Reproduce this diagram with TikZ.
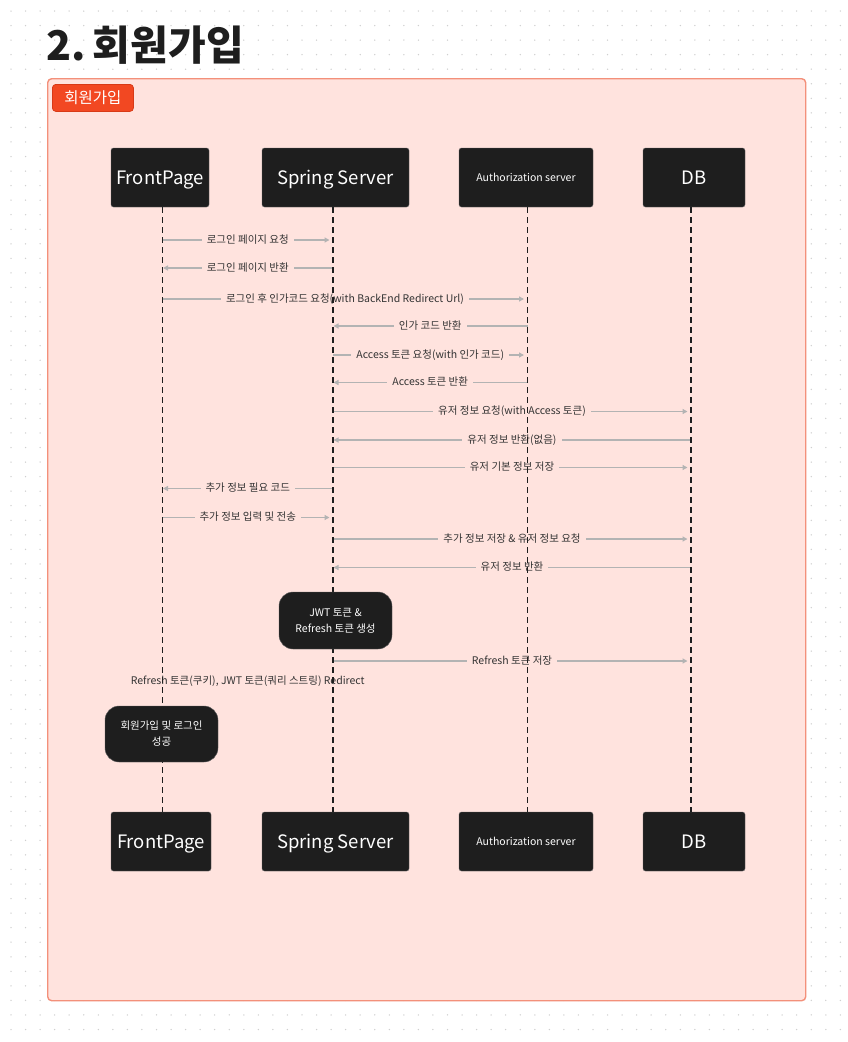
\documentclass[tikz,border=0pt]{standalone}
\usepackage{fontspec}
\setmainfont{Noto Sans CJK KR}
\usetikzlibrary{arrows.meta}
\definecolor{bgpink}{HTML}{FFE3DE}
\definecolor{framec}{HTML}{F3907A}
\definecolor{tagc}{HTML}{F24822}
\definecolor{tagb}{HTML}{D83A17}
\definecolor{ink}{HTML}{1E1E1E}
\definecolor{arrowc}{HTML}{B3B3B3}
\definecolor{lblc}{HTML}{333333}
\definecolor{dotc}{HTML}{CFCFCF}
\tikzset{
  frame/.style={draw=framec, fill=bgpink, line width=1.4pt, rounded corners=4pt, inner sep=0pt},
  tagbox/.style={draw=tagb, fill=tagc, line width=0.8pt, rounded corners=3.5pt, text=white,
    font=\fontsize{15.5}{18}\selectfont, minimum width=81pt, minimum height=27pt, inner sep=0pt,
    text height=12pt, text depth=1pt},
  actor/.style={fill=ink, draw=ink!70, line width=0.4pt, rounded corners=2.5pt, text=white,
    minimum height=59pt, inner sep=0pt, font=\fontsize{18.5}{22}\selectfont,
    text height=14pt, text depth=1pt},
  actorsmall/.style={actor, font=\fontsize{10.5}{13}\selectfont, text height=8.5pt, text depth=0.8pt},
  act/.style={fill=ink, draw=ink!70, line width=0.4pt, rounded corners=14pt, text=white,
    align=center, inner sep=0pt, font=\fontsize{10.5}{16}\selectfont},
  lifeline/.style={draw=ink, line width=1.2pt, dash pattern=on 6pt off 4pt},
  msg/.style={draw=arrowc, line width=1.3pt, -{Triangle[length=5pt,width=5pt]}},
  msgR/.style={msg, shorten >=3.5pt},
  msgL/.style={msg, shorten >=0.5pt},
  lbl/.style={fill=bgpink, text=lblc, inner xsep=5pt, inner ysep=1.5pt,
    font=\fontsize{10.5}{12}\selectfont, text height=8pt, text depth=2pt},
}
\begin{document}
\begin{tikzpicture}[x=1pt,y=-1pt]
\useasboundingbox (0,0) rectangle (848,1042);
\fill[white] (0,0) rectangle (848,1042);
\foreach \i in {0,...,57}{
  \foreach \j in {0,...,70}{
    \fill[dotc] ({11+\i*14.55},{11+\j*14.55}) circle (0.75pt);
  }
}
% frame, tag, title
\node[frame, anchor=north west, minimum width=758pt, minimum height=922pt] (frame) at (47,78) {};
\node[tagbox, anchor=north west] (tag) at (52,84) {회원가입};
\node[anchor=base west, inner sep=0pt, text=ink, font=\bfseries\fontsize{41}{48}\selectfont] (title) at (46,60) {2.\kern-2pt\ 회원가입};

% actors
\node[actor, minimum width=98pt] (fpT) at (160,177.5) {FrontPage};
\node[actor, minimum width=147pt] (ssT) at (335.5,177.5) {Spring Server};
\node[actorsmall, minimum width=134pt] (azT) at (526,177.5) {Authorization server};
\node[actor, minimum width=102pt] (dbT) at (694,177.5) {DB};
\node[actor, minimum width=100pt] (fpB) at (161,841.5) {FrontPage};
\node[actor, minimum width=147pt] (ssB) at (335.5,841.5) {Spring Server};
\node[actorsmall, minimum width=134pt] (azB) at (526,841.5) {Authorization server};
\node[actor, minimum width=102pt] (dbB) at (694,841.5) {DB};

\coordinate (fpL) at (162.5,0);
\coordinate (ssL) at (333,0);
\coordinate (azL) at (527.5,0);
\coordinate (dbL) at (691,0);

% messages
\draw[msgR] (fpL |- 0,240) -- node[lbl]{로그인 페이지 요청} (ssL |- 0,240);
\draw[msgL] (ssL |- 0,268) -- node[lbl]{로그인 페이지 반환} (fpL |- 0,268);
\draw[msgR] (fpL |- 0,299) -- node[lbl]{로그인 후 인가코드 요청(with BackEnd Redirect Url)} (azL |- 0,299);
\draw[msgL] (azL |- 0,326) -- node[lbl]{인가 코드 반환} (ssL |- 0,326);
\draw[msgR] (ssL |- 0,355) -- node[lbl]{Access 토큰 요청(with 인가 코드)} (azL |- 0,355);
\draw[msgL] (azL |- 0,382.5) -- node[lbl]{Access 토큰 반환} (ssL |- 0,382.5);
\draw[msgR] (ssL |- 0,411.5) -- node[lbl]{유저 정보 요청(with Access 토큰)} (dbL |- 0,411.5);
\draw[msgL] (dbL |- 0,440) -- node[lbl]{유저 정보 반환(없음)} (ssL |- 0,440);
\draw[msgR] (ssL |- 0,467.5) -- node[lbl]{유저 기본 정보 저장} (dbL |- 0,467.5);
\draw[msgL] (ssL |- 0,488.5) -- node[lbl]{추가 정보 필요 코드} (fpL |- 0,488.5);
\draw[msgR] (fpL |- 0,517.5) -- node[lbl]{추가 정보 입력 및 전송} (ssL |- 0,517.5);
\draw[msgR] (ssL |- 0,539) -- node[lbl]{추가 정보 저장 \& 유저 정보 요청} (dbL |- 0,539);
\draw[msgL] (dbL |- 0,567.5) -- node[lbl]{유저 정보 반환} (ssL |- 0,567.5);
\draw[msgR] (ssL |- 0,661) -- node[lbl]{Refresh 토큰 저장} (dbL |- 0,661);
\draw[msgL] (ssL |- 0,681) -- node[lbl]{Refresh 토큰(쿠키), JWT 토큰(쿼리 스트링) Redirect} (fpL |- 0,681);

% lifelines
\draw[lifeline] (fpL |- fpT.south) -- (fpL |- fpB.north);
\draw[lifeline] (ssL |- ssT.south) -- (ssL |- ssB.north);
\draw[lifeline] (azL |- azT.south) -- (azL |- azB.north);
\draw[lifeline] (dbL |- dbT.south) -- (dbL |- dbB.north);

% activation boxes
\node[act, minimum width=113pt, minimum height=57pt] (jwt) at (335.5,620.5) {JWT 토큰 \&\\Refresh 토큰 생성};
\node[act, minimum width=113pt, minimum height=56pt] (done) at (161.5,734) {회원가입 및 로그인\\성공};
\end{tikzpicture}
\end{document}
